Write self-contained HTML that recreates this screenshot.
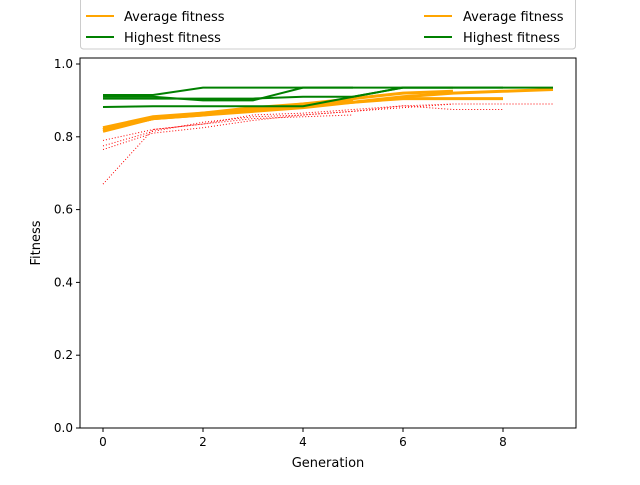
<!DOCTYPE html>
<html><head><meta charset="utf-8"><style>
body{margin:0;background:#fff;font-family:"Liberation Sans","DejaVu Sans",sans-serif}
svg text{font-family:"DejaVu Sans","Liberation Sans",sans-serif;font-size:13px;fill:#000}
</style></head><body>
<svg id="chart" width="640" height="480">
<g id="plot"></g>
<g id="axes"></g>
<g>
<rect x="80.5" y="-6" width="495" height="55" rx="3" fill="#fff" stroke="#ccc"/>
<line x1="86" y1="16" x2="114" y2="16" stroke="orange" stroke-width="2"/>
<text x="124" y="21">Average fitness</text>
<line x1="86" y1="37" x2="114" y2="37" stroke="green" stroke-width="2"/>
<text x="124" y="42">Highest fitness</text>
<line x1="424" y1="16" x2="452" y2="16" stroke="orange" stroke-width="2"/>
<text x="463" y="21">Average fitness</text>
<line x1="424" y1="37" x2="452" y2="37" stroke="green" stroke-width="2"/>
<text x="463" y="42">Highest fitness</text>
</g>
</svg>
<script>
const avgRuns=[
[0.82,0.85,0.86,0.875,0.89,0.90],
[0.815,0.85,0.865,0.88,0.89,0.905,0.92,0.925],
[0.825,0.855,0.865,0.875,0.885,0.895,0.905,0.905,0.905],
[0.82,0.85,0.86,0.87,0.88,0.895,0.91,0.92,0.925,0.93]];
const highRuns=[
[0.91,0.91,0.90,0.90,0.935,0.935],
[0.915,0.915,0.935,0.935,0.935,0.935,0.935,0.935],
[0.882,0.884,0.884,0.884,0.884,0.91,0.935,0.935,0.935],
[0.905,0.905,0.905,0.905,0.91,0.91,0.935,0.935,0.935,0.935]];
const lowRuns=[
[0.79,0.82,0.835,0.85,0.855,0.86],
[0.765,0.81,0.825,0.845,0.86,0.87,0.88,0.89],
[0.775,0.815,0.84,0.855,0.86,0.87,0.885,0.875,0.875],
[0.67,0.82,0.835,0.86,0.865,0.875,0.885,0.89,0.89,0.89]];
const xTicks=[0,2,4,6,8];
const yTicks=[0,0.2,0.4,0.6,0.8,1.0];
const L=80,R=576,T=58,B=428;
const xs=v=>103+50*v;
const ys=v=>428-364*v;
const NS="http://www.w3.org/2000/svg";
const plot=document.getElementById('plot'),axes=document.getElementById('axes');
function mk(tag,attrs,parent){const e=document.createElementNS(NS,tag);for(const k in attrs)e.setAttribute(k,attrs[k]);parent.appendChild(e);return e;}
function series(runs,color,w,dash,name){
runs.forEach((r,i)=>{
const p=mk('polyline',{points:r.map((v,j)=>xs(j)+','+ys(v)).join(' '),fill:'none',stroke:color,'stroke-width':w,'stroke-dasharray':dash},plot);


});}
series(lowRuns,'red',1,'1,2','lowest-fitness');
series(avgRuns,'orange',3,'none','average-fitness');
series(highRuns,'green',2,'none','highest-fitness');
const frame=mk('rect',{x:L,y:T,width:R-L,height:B-T,fill:'none',stroke:'#000','stroke-width':1},axes);


xTicks.forEach(t=>{
const x=xs(t);
const l=mk('line',{x1:x,y1:B,x2:x,y2:B+4,stroke:'#000'},axes);


const tx=mk('text',{x:x,y:B+18,'text-anchor':'middle',style:'font-size:12px'},axes);tx.textContent=t;


});
yTicks.forEach(t=>{
const y=ys(t);
const l=mk('line',{x1:L-4,y1:y,x2:L,y2:y,stroke:'#000'},axes);


const tx=mk('text',{x:L-7,y:y+4,'text-anchor':'end',style:'font-size:12px'},axes);tx.textContent=t.toFixed(1);


});
const xt=mk('text',{x:328,y:467,'text-anchor':'middle'},axes);xt.textContent='Generation';


const yt=mk('text',{x:40,y:243,'text-anchor':'middle',transform:'rotate(-90 40 243)'},axes);yt.textContent='Fitness';


</script>
</body></html>
